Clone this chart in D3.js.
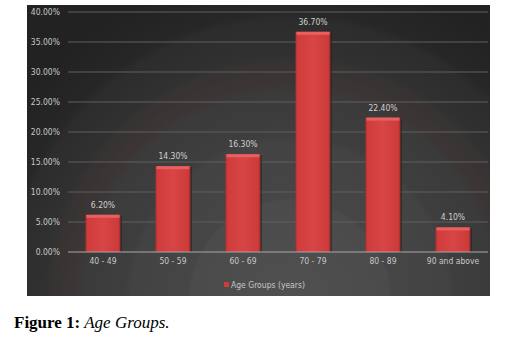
<!DOCTYPE html>
<html>
<head>
<meta charset="utf-8">
<script src="https://cdn.jsdelivr.net/npm/d3@7"></script>
<style>
  body { margin: 0; background: #fff; }
  svg { display: block; }
</style>
</head>
<body>
<svg id="chart" width="506" height="342"></svg>
<script>
const categories = ["40 - 49", "50 - 59", "60 - 69", "70 - 79", "80 - 89", "90 and above"];
const values = [6.2, 14.3, 16.3, 36.7, 22.4, 4.1];
const yTicks = [0, 5, 10, 15, 20, 25, 30, 35, 40];
const seriesName = "Age Groups (years)";

const svg = d3.select("#chart");
const panel = { x: 27, y: 5, w: 463, h: 291 };
const plot = { left: 68, right: 488, top: 12, bottom: 252 };
const labelFont = "8.5px 'DejaVu Sans Condensed', 'Liberation Sans Narrow', sans-serif";

const defs = svg.append("defs");
const bg = defs.append("radialGradient")
  .attr("id", "bg")
  .attr("gradientUnits", "userSpaceOnUse")
  .attr("cx", 290).attr("cy", 300).attr("r", 330);
[[0, "#505050"], [0.3, "#4b4b4b"], [0.31, "#464646"], [0.48, "#434343"], [0.5, "#3e3e3e"],
 [0.62, "#3b3b3b"], [0.66, "#3c3535"], [0.72, "#373333"], [0.74, "#313131"], [0.85, "#2c2c2c"],
 [0.87, "#272727"], [1, "#222"]]
  .forEach(([o, c]) => bg.append("stop").attr("offset", o).attr("stop-color", c));

const barGrad = defs.append("linearGradient").attr("id", "bar")
  .attr("x1", 0).attr("x2", 1).attr("y1", 0).attr("y2", 0);
[[0, "#a83030"], [0.06, "#d03c3c"], [0.5, "#d84545"], [0.94, "#cc3a3a"], [1, "#962828"]]
  .forEach(([o, c]) => barGrad.append("stop").attr("offset", o).attr("stop-color", c));

svg.append("rect")
  .attr("x", panel.x).attr("y", panel.y)
  .attr("width", panel.w).attr("height", panel.h)
  .attr("fill", "url(#bg)");

const x = d3.scaleBand().domain(categories).range([plot.left, plot.right]).paddingInner(0.5).paddingOuter(0.25);
const y = d3.scaleLinear().domain([0, 40]).range([plot.bottom, plot.top]);

// gridlines
svg.append("g")
  .selectAll("line")
  .data(yTicks.slice(1))
  .join("line")
  .attr("x1", plot.left).attr("x2", plot.right)
  .attr("y1", (d) => y(d)).attr("y2", (d) => y(d))
  .attr("stroke", "#5e5e5e").attr("stroke-width", 1);

// y axis labels
svg.append("g")
  .selectAll("text")
  .data(yTicks)
  .join("text")
  .attr("x", 60).attr("y", (d) => y(d) + 3)
  .attr("text-anchor", "end")
  .attr("fill", "#c8c8c8")
  .style("font", labelFont)
  .text((d) => d.toFixed(2) + "%");

// bars
const bars = svg.append("g").selectAll("g").data(values).join("g");
bars.append("rect")
  .attr("x", (d, i) => x(categories[i]) + 1.5)
  .attr("y", (d) => y(d) + 1)
  .attr("width", x.bandwidth())
  .attr("height", (d) => y(0) - y(d) - 1)
  .attr("fill", "#1c1c1c")
  .attr("opacity", 0.5);
bars.append("rect")
  .attr("x", (d, i) => x(categories[i]))
  .attr("y", (d) => y(d))
  .attr("width", x.bandwidth())
  .attr("height", (d) => y(0) - y(d))
  .attr("fill", "url(#bar)");
bars.append("rect")
  .attr("x", (d, i) => x(categories[i]) + 1)
  .attr("y", (d) => y(d))
  .attr("width", x.bandwidth() - 2)
  .attr("height", 3)
  .attr("fill", "#e86060");

// baseline
svg.append("line")
  .attr("x1", plot.left).attr("x2", plot.right)
  .attr("y1", y(0)).attr("y2", y(0))
  .attr("stroke", "#a8a8a8").attr("stroke-width", 1);

// value labels
bars.append("text")
  .attr("x", (d, i) => x(categories[i]) + x.bandwidth() / 2)
  .attr("y", (d) => y(d) - 7)
  .attr("text-anchor", "middle")
  .attr("fill", "#d0d0d0")
  .style("font", labelFont)
  .text((d) => d.toFixed(2) + "%");

// category labels
svg.append("g")
  .selectAll("text")
  .data(categories)
  .join("text")
  .attr("x", (d) => x(d) + x.bandwidth() / 2)
  .attr("y", plot.bottom + 12)
  .attr("text-anchor", "middle")
  .attr("fill", "#c8c8c8")
  .style("font", labelFont)
  .text((d) => d);

// legend
const legend = svg.append("g").attr("transform", "translate(224,285)");
legend.append("rect").attr("x", 0).attr("y", -3).attr("width", 5).attr("height", 5).attr("fill", "#d03c3c");
legend.append("text")
  .attr("x", 7).attr("y", 3)
  .attr("fill", "#c8c8c8")
  .style("font", labelFont)
  .text(seriesName);

// caption
const cap = svg.append("text")
  .attr("x", 14).attr("y", 328)
  .attr("fill", "#000")
  .style("font-family", "'Liberation Serif', 'DejaVu Serif', serif")
  .style("font-size", "17px");
cap.append("tspan").style("font-weight", "bold").text("Figure 1:");
cap.append("tspan").style("font-style", "italic").text(" Age Groups.");
</script>
</body>
</html>
